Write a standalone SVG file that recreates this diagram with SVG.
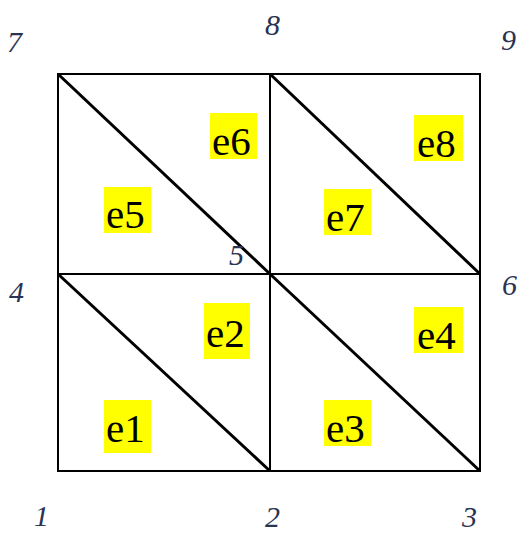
<svg xmlns="http://www.w3.org/2000/svg" width="522" height="533" viewBox="0 0 522 533">
<style>
.grid{stroke:#000;stroke-width:2;fill:none}
.diag{stroke:#000;stroke-width:3;fill:none}
.hl{fill:#ffff00}
.el{font-size:41px;fill:#000}
.nd{font-style:italic;font-size:30px;fill:#2b3352}
</style>
<rect width="522" height="533" fill="#fff"/>
<g id="connectors">
<rect class="grid" x="58" y="74" width="422" height="397"/>
<line class="grid" x1="270" y1="74" x2="270" y2="471"/>
<line class="grid" x1="58" y1="274" x2="480" y2="274"/>
<line class="diag" x1="58" y1="74" x2="270" y2="274"/>
<line class="diag" x1="270" y1="74" x2="480" y2="274"/>
<line class="diag" x1="58" y1="274" x2="270" y2="471"/>
<line class="diag" x1="270" y1="274" x2="480" y2="471"/>
</g>
<g font-family="Liberation Serif, DejaVu Serif, serif">
<g id="e1"><rect class="hl" x="104" y="400" width="47" height="53"/><text class="el" x="106" y="442">e1</text></g>
<g id="e2"><rect class="hl" x="204" y="303" width="46" height="56"/><text class="el" x="206" y="347">e2</text></g>
<g id="e3"><rect class="hl" x="324" y="400" width="47" height="46"/><text class="el" x="326" y="442">e3</text></g>
<g id="e4"><rect class="hl" x="414" y="307" width="49" height="46"/><text class="el" x="417" y="349">e4</text></g>
<g id="e5"><rect class="hl" x="104" y="187" width="47" height="46"/><text class="el" x="106" y="228">e5</text></g>
<g id="e6"><rect class="hl" x="210" y="113" width="47" height="46"/><text class="el" x="212" y="155">e6</text></g>
<g id="e7"><rect class="hl" x="324" y="189" width="47" height="46"/><text class="el" x="326" y="231">e7</text></g>
<g id="e8"><rect class="hl" x="414" y="115" width="49" height="46"/><text class="el" x="417" y="157">e8</text></g>
<g id="n1"><text class="nd" x="34" y="526">1</text></g>
<g id="n2"><text class="nd" x="265" y="527">2</text></g>
<g id="n3"><text class="nd" x="462" y="527">3</text></g>
<g id="n4"><text class="nd" x="9" y="302">4</text></g>
<g id="n5"><text class="nd" x="229" y="265">5</text></g>
<g id="n6"><text class="nd" x="502" y="295">6</text></g>
<g id="n7"><text class="nd" x="7" y="52">7</text></g>
<g id="n8"><text class="nd" x="265" y="35">8</text></g>
<g id="n9"><text class="nd" x="501" y="50">9</text></g>
</g>
</svg>
